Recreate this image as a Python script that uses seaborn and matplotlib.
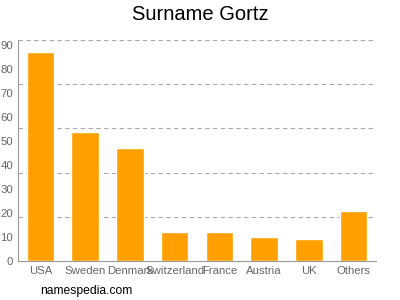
import matplotlib
matplotlib.use("Agg")
import matplotlib.pyplot as plt
import seaborn as sns
import pandas as pd
import numpy as np

countries = ["USA", "Sweden", "Denmark", "Switzerland", "France", "Austria", "UK", "Others"]
counts = [87, 54, 47, 12, 12, 10, 9, 21]
yticks = [0, 10, 20, 30, 40, 50, 60, 70, 80, 90]

sns.set_style("white")
plt.rcParams['font.family'] = ['Liberation Sans', 'DejaVu Sans']

fig = plt.figure(figsize=(4, 3), dpi=100)
ax = fig.add_axes([0.045, 0.13, 0.895, 0.7367])

df = pd.DataFrame({"country": countries, "count": counts})
sns.barplot(data=df, x="country", y="count", color="#ffa000", width=0.62,
            saturation=1, ax=ax, zorder=3)

ymax = 92.2
ax.set_ylim(0, ymax)
ax.set_xlim(-0.5, len(countries) - 0.5)
for g in np.linspace(ymax / 5, ymax, 5):
    ax.axhline(g, color="#aaaaaa", linestyle=(0, (4, 3)), linewidth=0.8, zorder=1)

ax.set_yticks(yticks)
ax.set_yticklabels([str(t) for t in yticks])
ax.set_xlabel("")
ax.set_ylabel("")
for s in ["top", "right"]:
    ax.spines[s].set_visible(False)
for s in ["left", "bottom"]:
    ax.spines[s].set_color("#999999")
    ax.spines[s].set_linewidth(0.8)
ax.tick_params(axis="both", colors="#999999", labelcolor="#666666", labelsize=8.2,
               length=2, width=0.8, pad=1.5)

fig.text(0.5, 0.95, "Surname Gortz", ha="center", va="center", fontsize=14.5, color="#000000")
fig.text(0.1, 0.03, "namespedia.com", ha="left", va="center", fontsize=8.7, color="#000000")

fig.savefig("out.png", dpi=100)
